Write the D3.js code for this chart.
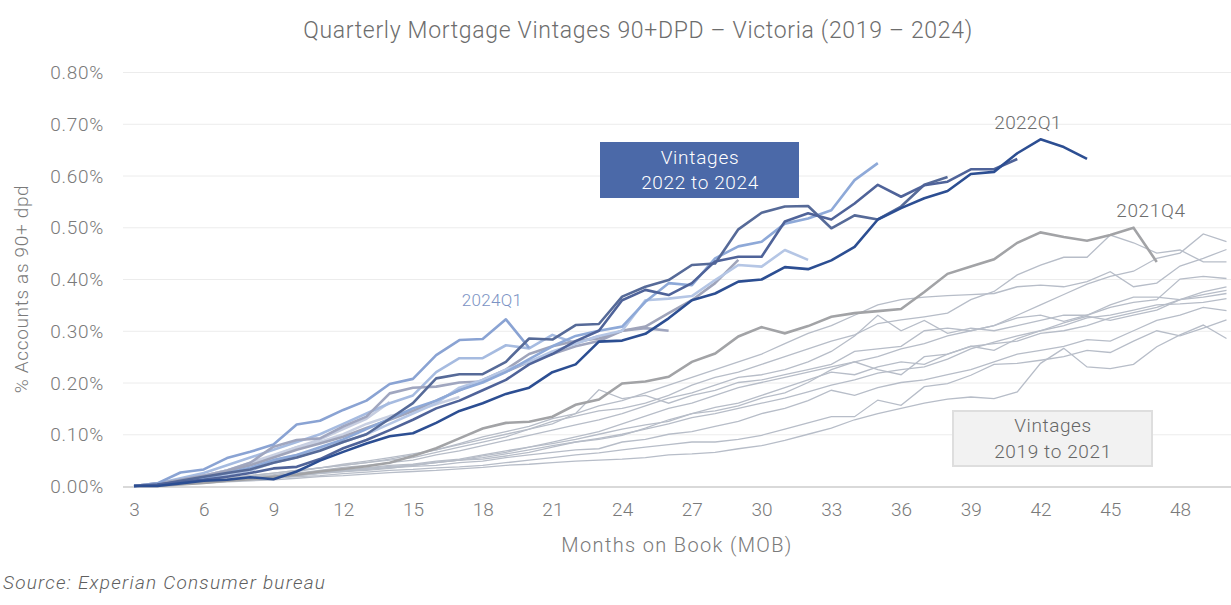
<!DOCTYPE html>
<html>
<head>
<meta charset="utf-8">
<script src="https://cdn.jsdelivr.net/npm/d3@7"></script>
<style>
  body { margin: 0; background: #fff; }
  svg text { font-family: Roboto, "Open Sans", sans-serif; font-weight: 300; }
</style>
</head>
<body>
<div id="graf"></div>
<script>
// months on book start at 3, one value per month
const xTicks = [3, 6, 9, 12, 15, 18, 21, 24, 27, 30, 33, 36, 39, 42, 45, 48]
const yTicks = [0, 0.1, 0.2, 0.3, 0.4, 0.5, 0.6, 0.7, 0.8]

// older vintages 2019Q1 - 2021Q3 (thin grey)
const v2019Q1 = [0,0.001,0.003,0.005,0.008,0.010,0.012,0.015,0.018,0.020, 0.023,0.026,0.028,0.030,0.033,0.036,0.040,0.042,0.045,0.048, 0.050,0.052,0.055,0.060,0.062,0.065,0.072,0.078,0.088,0.100, 0.112,0.128,0.140,0.150,0.160,0.168,0.172,0.169,0.182,0.237, 0.266,0.230,0.227,0.235,0.269,0.292,0.311,0.285]
const v2019Q2 = [0,0.002,0.004,0.006,0.009,0.012,0.015,0.018,0.020,0.024, 0.027,0.030,0.032,0.035,0.037,0.040,0.045,0.050,0.055,0.060, 0.064,0.070,0.075,0.080,0.085,0.085,0.090,0.098,0.110,0.122, 0.134,0.134,0.166,0.156,0.192,0.198,0.214,0.235,0.237,0.243, 0.250,0.262,0.258,0.280,0.300,0.290,0.305,0.321]
const v2019Q3 = [0,0.001,0.004,0.008,0.010,0.014,0.018,0.020,0.025,0.030, 0.032,0.035,0.038,0.040,0.045,0.048,0.055,0.060,0.065,0.070, 0.072,0.085,0.090,0.100,0.105,0.115,0.125,0.140,0.150,0.165, 0.185,0.175,0.190,0.200,0.205,0.215,0.225,0.240,0.255,0.262, 0.270,0.283,0.280,0.300,0.320,0.330,0.345,0.339]
const v2019Q4 = [0,0.002,0.005,0.008,0.012,0.015,0.018,0.022,0.026,0.030, 0.034,0.038,0.040,0.045,0.050,0.052,0.058,0.065,0.075,0.085, 0.092,0.100,0.110,0.120,0.132,0.140,0.150,0.160,0.170,0.182, 0.195,0.205,0.218,0.225,0.230,0.245,0.265,0.278,0.290,0.300, 0.310,0.325,0.330,0.340,0.350,0.352,0.355,0.362]
const v2020Q1 = [0,0.001,0.003,0.006,0.010,0.012,0.015,0.020,0.025,0.028, 0.030,0.034,0.040,0.046,0.050,0.055,0.062,0.070,0.078,0.085, 0.090,0.098,0.112,0.128,0.140,0.152,0.160,0.175,0.190,0.205, 0.220,0.215,0.230,0.240,0.235,0.255,0.270,0.275,0.280,0.295, 0.300,0.310,0.325,0.335,0.345,0.360,0.365,0.372]
const v2020Q2 = [0,0.002,0.005,0.009,0.013,0.017,0.020,0.022,0.025,0.030, 0.035,0.040,0.042,0.048,0.052,0.060,0.068,0.075,0.082,0.090, 0.100,0.110,0.118,0.125,0.140,0.145,0.155,0.170,0.180,0.200, 0.225,0.240,0.225,0.215,0.250,0.255,0.270,0.262,0.285,0.300, 0.315,0.328,0.320,0.330,0.340,0.360,0.370,0.378]
const v2020Q3 = [0,0.002,0.005,0.010,0.015,0.020,0.025,0.030,0.035,0.040, 0.045,0.050,0.055,0.065,0.075,0.085,0.095,0.110,0.120,0.140, 0.186,0.169,0.175,0.160,0.175,0.185,0.200,0.205,0.215,0.225, 0.235,0.260,0.265,0.270,0.300,0.305,0.300,0.310,0.325,0.330, 0.318,0.330,0.350,0.365,0.365,0.360,0.375,0.385]
const v2020Q4 = [0,0.001,0.004,0.008,0.012,0.016,0.020,0.025,0.030,0.036, 0.040,0.045,0.050,0.060,0.068,0.078,0.088,0.098,0.108,0.118, 0.128,0.140,0.155,0.170,0.180,0.195,0.210,0.215,0.225,0.240, 0.260,0.290,0.330,0.300,0.320,0.295,0.305,0.300,0.310,0.320, 0.330,0.330,0.345,0.355,0.360,0.400,0.405,0.401]
const v2021Q1 = [0,0.002,0.006,0.010,0.014,0.018,0.022,0.028,0.035,0.042, 0.048,0.055,0.062,0.070,0.080,0.090,0.100,0.110,0.125,0.135, 0.145,0.150,0.160,0.175,0.195,0.210,0.220,0.235,0.250,0.265, 0.280,0.292,0.314,0.321,0.327,0.334,0.360,0.376,0.408,0.427, 0.442,0.442,0.485,0.470,0.450,0.456,0.433,0.433]
const v2021Q2 = [0,0.001,0.003,0.006,0.010,0.013,0.016,0.020,0.024,0.028, 0.032,0.036,0.040,0.045,0.050,0.058,0.065,0.075,0.085,0.095, 0.105,0.120,0.135,0.150,0.160,0.175,0.190,0.200,0.210,0.220, 0.230,0.240,0.250,0.265,0.275,0.290,0.300,0.310,0.330,0.350, 0.370,0.390,0.405,0.415,0.440,0.450,0.487,0.472]
const v2021Q3 = [0,0.002,0.005,0.010,0.015,0.020,0.025,0.030,0.035,0.040, 0.045,0.052,0.060,0.070,0.082,0.095,0.105,0.115,0.130,0.140, 0.155,0.165,0.180,0.195,0.210,0.225,0.240,0.255,0.275,0.295, 0.310,0.330,0.350,0.360,0.365,0.368,0.370,0.372,0.385,0.388, 0.385,0.395,0.414,0.385,0.392,0.425,0.440,0.457]
const v2021Q4 = [0,0,0.003,0.006,0.010,0.013,0.018,0.022,0.028,0.033, 0.038,0.045,0.058,0.073,0.092,0.111,0.122,0.124,0.134,0.157, 0.167,0.198,0.202,0.211,0.240,0.256,0.289,0.307,0.295,0.309, 0.327,0.334,0.338,0.342,0.375,0.410,0.424,0.438,0.470,0.490, 0.481,0.474,0.485,0.499,0.433]

// recent vintages 2022Q1 - 2024Q4 (blues)
const v2022Q1 = [0,0,0.005,0.010,0.012,0.017,0.013,0.028,0.049,0.066, 0.082,0.096,0.102,0.122,0.145,0.160,0.178,0.190,0.220,0.235, 0.279,0.281,0.294,0.324,0.359,0.372,0.395,0.399,0.423,0.419, 0.436,0.462,0.515,0.537,0.556,0.570,0.603,0.607,0.643,0.670, 0.655,0.632]
const v2022Q2 = [0,0.003,0.008,0.012,0.018,0.025,0.034,0.037,0.052,0.073, 0.089,0.108,0.128,0.150,0.165,0.185,0.205,0.235,0.255,0.280, 0.300,0.359,0.379,0.369,0.392,0.434,0.443,0.443,0.511,0.527, 0.515,0.546,0.582,0.559,0.581,0.588,0.612,0.612,0.632]
const v2022Q3 = [0,0.002,0.010,0.018,0.025,0.032,0.045,0.055,0.068,0.085, 0.100,0.130,0.160,0.208,0.216,0.216,0.240,0.285,0.283,0.311, 0.313,0.366,0.385,0.398,0.427,0.430,0.496,0.528,0.540,0.541, 0.498,0.523,0.515,0.540,0.582,0.597]
const v2022Q4 = [0,0.002,0.008,0.015,0.025,0.035,0.050,0.060,0.075,0.090, 0.110,0.130,0.150,0.165,0.185,0.200,0.220,0.245,0.270,0.290, 0.300,0.308,0.356,0.392,0.388,0.440,0.463,0.472,0.507,0.517, 0.533,0.591,0.624]
const v2023Q1 = [0,0.002,0.007,0.014,0.022,0.030,0.045,0.055,0.070,0.085, 0.100,0.120,0.140,0.160,0.190,0.205,0.225,0.240,0.260,0.275, 0.290,0.300,0.359,0.362,0.367,0.398,0.427,0.424,0.456,0.437]
const v2023Q2 = [0,0.003,0.010,0.018,0.028,0.040,0.055,0.070,0.082,0.095, 0.112,0.128,0.145,0.165,0.185,0.205,0.225,0.255,0.270,0.280, 0.285,0.300,0.308,0.334,0.359,0.392,0.437]
const v2023Q3 = [0,0.005,0.012,0.020,0.030,0.045,0.076,0.089,0.092,0.115, 0.134,0.179,0.190,0.192,0.200,0.202,0.221,0.240,0.255,0.270, 0.280,0.300,0.305,0.300]
const v2023Q4 = [0,0.005,0.015,0.025,0.040,0.055,0.070,0.085,0.100,0.120, 0.140,0.160,0.175,0.220,0.247,0.247,0.272,0.266,0.292,0.276, 0.290]
const v2024Q1 = [0,0.005,0.026,0.032,0.054,0.066,0.080,0.119,0.126,0.147, 0.165,0.197,0.207,0.253,0.282,0.284,0.322,0.267]
const v2024Q2 = [0,0.003,0.010,0.020,0.030,0.045,0.060,0.075,0.085,0.100, 0.120,0.135,0.145,0.158,0.172]
const v2024Q3 = [0,0.003,0.010,0.020,0.030,0.042,0.058,0.075,0.090,0.110, 0.130,0.162]
const v2024Q4 = [0,0.004,0.010,0.020,0.030,0.040,0.050,0.060,0.070]

const oldNames = ["2019Q1","2019Q2","2019Q3","2019Q4","2020Q1","2020Q2","2020Q3","2020Q4","2021Q1","2021Q2","2021Q3"]
const oldValues = [v2019Q1,v2019Q2,v2019Q3,v2019Q4,v2020Q1,v2020Q2,v2020Q3,v2020Q4,v2021Q1,v2021Q2,v2021Q3]
const newNames = ["2024Q4","2024Q3","2024Q2","2023Q4","2023Q3","2023Q2","2023Q1","2022Q4","2024Q1","2022Q3","2022Q2","2022Q1"]
const newValues = [v2024Q4,v2024Q3,v2024Q2,v2023Q4,v2023Q3,v2023Q2,v2023Q1,v2022Q4,v2024Q1,v2022Q3,v2022Q2,v2022Q1]
const newColors = ["#d3d9e6","#c6cde0","#c9d0e2","#a6bbe0","#a0a6bf","#9fa4ba","#b5c6e5","#8ea9d8","#8aa3d3","#566a98","#4f6399","#2c4e92"]

// stretch letter spacing so a label spans the same width as in the picture
function fit(sel, target){
  sel.each(function(){
    const n = this.textContent.length
    const w = this.getComputedTextLength()
    if (n > 1) d3.select(this).style('letter-spacing', ((target - w) / (n - 1)) + 'px')
  })
  return sel
}

function render(){
  const width = 1231, height = 605
  const svg = d3.select('#graf').append('svg')
    .attr('width', width).attr('height', height)

  const x = d3.scaleLinear().domain([3, 48]).range([134, 1180])
  const y = d3.scaleLinear().domain([0, 0.8]).range([486, 72])

  svg.append('defs').append('clipPath').attr('id', 'plot')
    .append('rect').attr('x', 123).attr('y', 60).attr('width', 1108).attr('height', 440)

  // gridlines
  svg.append('g')
    .attr('transform', 'translate(123,0)')
    .call(d3.axisLeft(y).tickValues(yTicks).tickSize(-1108).tickFormat(''))
    .call(g => g.select('.domain').remove())
    .call(g => g.selectAll('line').attr('stroke', '#ececec').attr('stroke-width', 1))

  // y tick labels
  svg.append('g')
    .attr('transform', 'translate(104,0)')
    .call(d3.axisLeft(y).tickValues(yTicks).tickSize(0).tickFormat(d => d.toFixed(2) + '%'))
    .call(g => g.select('.domain').remove())
    .call(g => g.selectAll('text').attr('fill', '#7a7a7a').style('font-size', '19px').attr('dy', '0.35em').attr('x', 0))
    .call(g => fit(g.selectAll('text'), 53))

  // x axis
  svg.append('g')
    .attr('transform', 'translate(0,486)')
    .call(d3.axisBottom(x).tickValues(xTicks).tickSize(0).tickPadding(17))
    .call(g => g.select('.domain').remove())
    .call(g => g.selectAll('text').attr('fill', '#7a7a7a').style('font-size', '19px'))

  svg.append('line')
    .attr('x1', 123).attr('x2', 1231).attr('y1', 487).attr('y2', 487)
    .attr('stroke', '#d9d9d9').attr('stroke-width', 2)

  const line = d3.line()
    .x((d, i) => x(i + 3))
    .y(d => y(d))

  const plot = svg.append('g').attr('clip-path', 'url(#plot)')

  plot.selectAll('.old')
    .data(oldValues)
    .join('path')
    .attr('class', 'old')
    .attr('d', line)
    .attr('fill', 'none')
    .attr('stroke', '#b7bdc8')
    .attr('stroke-width', 1.3)

  plot.append('path')
    .attr('d', line(v2021Q4))
    .attr('fill', 'none')
    .attr('stroke', '#a2a3a6')
    .attr('stroke-width', 2.6)

  plot.selectAll('.new')
    .data(newValues)
    .join('path')
    .attr('class', 'new')
    .attr('d', line)
    .attr('fill', 'none')
    .attr('stroke', (d, i) => newColors[i])
    .attr('stroke-width', 2.6)
    .attr('stroke-linejoin', 'round')

  // title
  fit(svg.append('text')
    .attr('x', 638).attr('y', 38)
    .attr('text-anchor', 'middle')
    .attr('fill', '#6d6d6d')
    .style('font-size', '23px')
    .text('Quarterly Mortgage Vintages 90+DPD – Victoria (2019 – 2024)'), 669)

  // axis titles
  fit(svg.append('text')
    .attr('transform', 'translate(28,289) rotate(-90)')
    .attr('text-anchor', 'middle')
    .attr('fill', '#7a7a7a')
    .style('font-size', '19px')
    .text('% Accounts as 90+ dpd'), 208)

  fit(svg.append('text')
    .attr('x', 677).attr('y', 552)
    .attr('text-anchor', 'middle')
    .attr('fill', '#7a7a7a')
    .style('font-size', '20px')
    .text('Months on Book (MOB)'), 230)

  fit(svg.append('text')
    .attr('x', 3).attr('y', 589)
    .attr('fill', '#5f5f5f')
    .style('font-size', '19px')
    .style('font-style', 'italic')
    .text('Source: Experian Consumer bureau'), 322)

  // series labels
  fit(svg.append('text').attr('x', 1028).attr('y', 129).attr('text-anchor', 'middle')
    .attr('fill', '#6d6d6d').style('font-size', '19px').text('2022Q1'), 67)
  fit(svg.append('text').attr('x', 1151).attr('y', 217).attr('text-anchor', 'middle')
    .attr('fill', '#6d6d6d').style('font-size', '19px').text('2021Q4'), 69)
  fit(svg.append('text').attr('x', 492).attr('y', 306).attr('text-anchor', 'middle')
    .attr('fill', '#7b93c4').style('font-size', '17px').text('2024Q1'), 60)

  // group boxes
  svg.append('rect').attr('x', 600).attr('y', 142).attr('width', 199).attr('height', 56)
    .attr('fill', '#4b69a8')
  fit(svg.append('text').attr('x', 700).attr('y', 164).attr('text-anchor', 'middle')
    .attr('fill', '#ffffff').style('font-size', '19px').text('Vintages'), 78)
  fit(svg.append('text').attr('x', 700).attr('y', 189).attr('text-anchor', 'middle')
    .attr('fill', '#ffffff').style('font-size', '19px').text('2022 to 2024'), 117)

  svg.append('rect').attr('x', 953).attr('y', 411).attr('width', 199).attr('height', 55)
    .attr('fill', '#f2f2f2').attr('stroke', '#dedede').attr('stroke-width', 2)
  fit(svg.append('text').attr('x', 1053).attr('y', 432).attr('text-anchor', 'middle')
    .attr('fill', '#666666').style('font-size', '19px').text('Vintages'), 77)
  fit(svg.append('text').attr('x', 1053).attr('y', 458).attr('text-anchor', 'middle')
    .attr('fill', '#666666').style('font-size', '19px').text('2019 to 2021'), 117)
}

render()
</script>
</body>
</html>
